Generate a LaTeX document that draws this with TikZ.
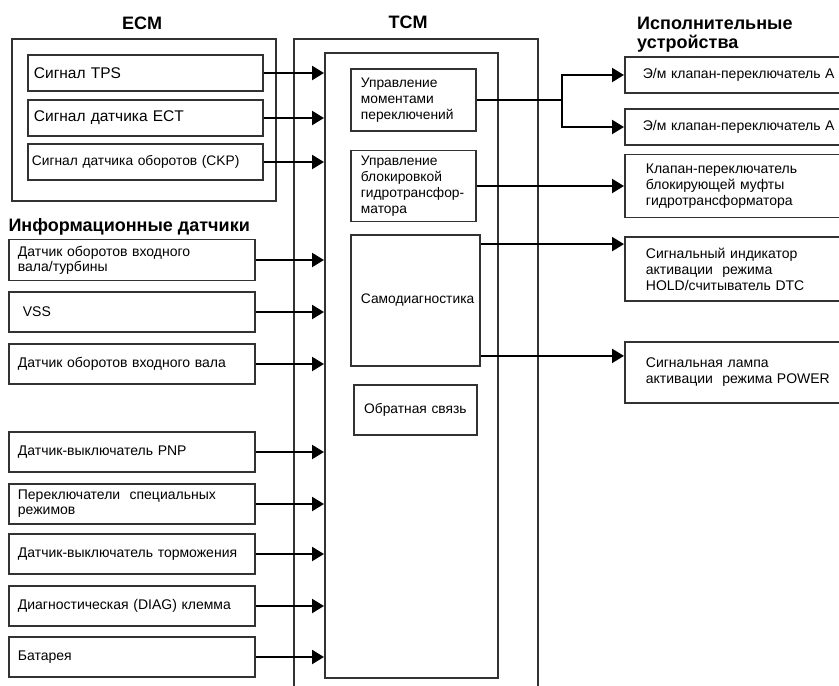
\documentclass[tikz,border=0pt]{standalone}
\usepackage{fontspec}
\setmainfont{Liberation Sans}
\usetikzlibrary{arrows.meta}

\definecolor{framegray}{RGB}{50,50,50}

\tikzset{
  frm/.style={draw=framegray, line width=1.8pt, rectangle, inner sep=0pt, anchor=north west},
  blk/.style={draw=framegray, line width=1.8pt, rectangle, inner xsep=9pt, inner ysep=2pt,
              align=left, anchor=west, font=\fontsize{14}{15}\selectfont},
  tcmblk/.style={blk, inner xsep=10pt, text width=105pt, font=\fontsize{13.8}{15.8}\selectfont},
  actblk/.style={blk, inner xsep=21pt, text width=220pt, font=\fontsize{14}{16}\selectfont},
  ttl/.style={font=\fontsize{18}{19}\selectfont\bfseries},
  sig/.style={-{Triangle[length=12pt,width=14pt]}, line width=2.2pt},
}

\begin{document}
\begin{tikzpicture}[x=1pt, y=-1pt]
  \useasboundingbox (0,0) rectangle (839,686);

  % headings
  \node[ttl] (ecmttl) at (142,23) {ECM};
  \node[ttl] (tcmttl) at (408,22) {TCM};
  \node[ttl, anchor=west] (datttl) at (5,227) {Информационные датчики};
  \node[ttl, anchor=base west, align=left, inner sep=0pt] (actttl) at (637,48) {Исполнительные\\устройства};

  % frames
  \node[frm, minimum width=264pt, minimum height=162pt] (ecm) at (11,38) {};
  \node[frm, minimum width=244pt, minimum height=680pt] (tcm) at (293,38) {};
  \node[frm, minimum width=173pt, minimum height=625pt] (tcmin) at (324,52) {};

  % ECM signals
  \node[blk, inner xsep=6pt, text width=223pt, minimum height=36pt, font=\fontsize{15.5}{17}\selectfont] (tps) at (27,73) {Сигнал TPS};
  \node[blk, inner xsep=6pt, text width=223pt, minimum height=36pt, font=\fontsize{15.5}{17}\selectfont] (ect) at (27,118) {Сигнал датчика ECT};
  \node[blk, inner xsep=4pt, text width=227pt, minimum height=36pt, font=\fontsize{13.8}{15}\selectfont] (ckp) at (27,162) {Сигнал датчика оборотов (CKP)};

  % sensors
  \node[blk, text width=228pt, minimum height=41pt] (vt) at (8,260) {Датчик оборотов входного\\вала/турбины};
  \node[blk, text width=228pt, minimum height=40pt] (vss) at (8,312) {\hspace{5pt}VSS};
  \node[blk, text width=228pt, minimum height=40pt] (vin) at (8,364) {Датчик оборотов входного вала};
  \node[blk, text width=228pt, minimum height=40pt] (pnp) at (8,452) {Датчик-выключатель PNP};
  \node[blk, text width=228pt, minimum height=40pt] (spec) at (8,504) {Переключатели\ \ специальных\\режимов};
  \node[blk, text width=228pt, minimum height=40pt] (brk) at (8,554) {Датчик-выключатель торможения};
  \node[blk, text width=228pt, minimum height=40pt] (diagk) at (8,606) {Диагностическая (DIAG) клемма};
  \node[blk, text width=228pt, minimum height=40pt] (bat) at (8,657) {Батарея};

  % TCM functions
  \node[tcmblk, minimum height=62pt] (upr) at (350,100) {Управление\\моментами\\переключений};
  \node[tcmblk, minimum height=71pt] (blok) at (350,186) {Управление\\блокировкой\\гидротрансфор-\\матора};
  \node[tcmblk, text width=109pt, minimum height=131pt, align=center] (diag) at (350,300.5) {Самодиагностика};
  \node[tcmblk, text width=103pt, minimum height=50pt, align=center] (obr) at (353,410) {Обратная связь};

  % actuators
  \node[actblk, inner xsep=18pt, text width=226pt, minimum height=36pt] (sol1) at (624,75) {Э/м клапан-переключатель А};
  \node[actblk, inner xsep=18pt, text width=226pt, minimum height=36pt] (sol2) at (624,127) {Э/м клапан-переключатель А};
  \node[actblk, minimum height=63pt] (lock) at (624,186) {Клапан-переключатель\\блокирующей муфты\\гидротрансформатора};
  \node[actblk, minimum height=64pt] (hold) at (624,269) {Сигнальный индикатор\\активации\ \ режима\\HOLD/считыватель DTC};
  \node[actblk, minimum height=61pt] (pwr) at (624,372.5) {Сигнальная лампа\\активации\ \ режима POWER};

  % inputs
  \path[sig]
    (tps.east) edge (tps.east -| tcmin.west)
    (ect.east) edge (ect.east -| tcmin.west)
    (ckp.east) edge (ckp.east -| tcmin.west)
    (vt.east) edge (vt.east -| tcmin.west)
    (vss.east) edge (vss.east -| tcmin.west)
    (vin.east) edge (vin.east -| tcmin.west)
    (pnp.east) edge (pnp.east -| tcmin.west)
    (spec.east) edge (spec.east -| tcmin.west)
    (brk.east) edge (brk.east -| tcmin.west)
    (diagk.east) edge (diagk.east -| tcmin.west)
    (bat.east) edge (bat.east -| tcmin.west)
  ;

  % outputs
  \path (upr.east) ++(85,0) coordinate (split);
  \coordinate (d1) at ([yshift=-10pt]diag.north east);
  \coordinate (d2) at ([yshift=11pt]diag.south east);
  \draw[line width=2.2pt] (upr.east) -- (split);
  \draw[sig] (split) |- (sol1.west);
  \draw[sig] (split) |- (sol2.west);
  \path[sig]
    (blok.east) edge (blok.east -| lock.west)
    (d1) edge (d1 -| hold.west)
    (d2) edge (d2 -| pwr.west)
  ;
\end{tikzpicture}
\end{document}
